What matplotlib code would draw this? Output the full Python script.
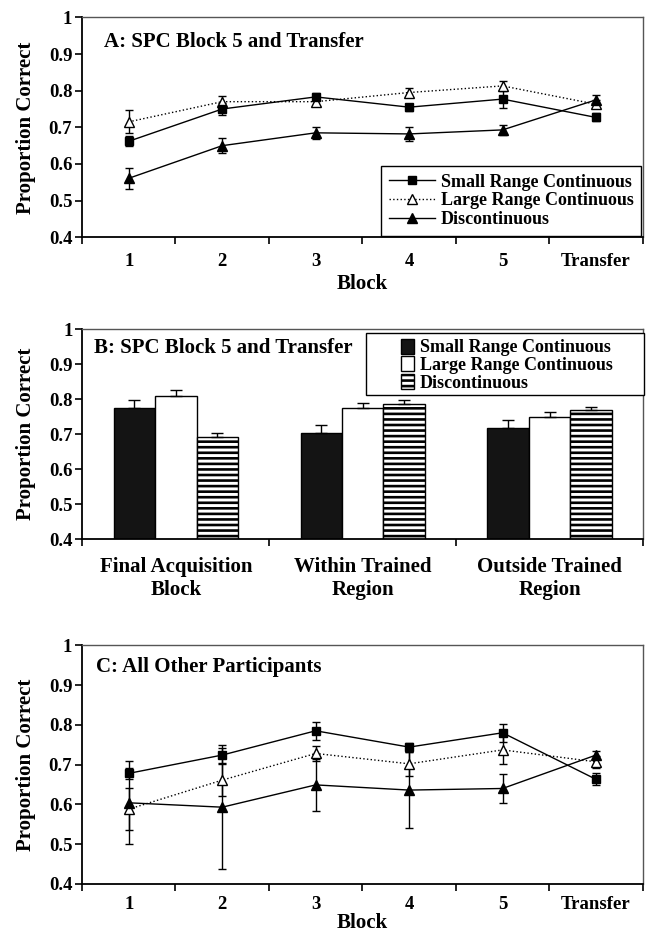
#%% Imports
import matplotlib
matplotlib.use('Agg')
import matplotlib.pyplot as plt
from matplotlib.patches import Patch, Rectangle
from matplotlib.lines import Line2D
import numpy as np

#%% Data
blocks = ['1', '2', '3', '4', '5', 'Transfer']
series_names = ['Small Range Continuous', 'Large Range Continuous', 'Discontinuous']

# Panel A: SPC Block 5 and Transfer
a_small = [0.662, 0.750, 0.783, 0.755, 0.777, 0.727]
a_small_err = [0.013, 0.016, 0.011, 0.010, 0.024, 0.011]
a_large = [0.715, 0.770, 0.770, 0.795, 0.813, 0.763]
a_large_err = [0.031, 0.015, 0.012, 0.013, 0.013, 0.011]
a_disc = [0.561, 0.650, 0.685, 0.682, 0.693, 0.775]
a_disc_err = [0.029, 0.020, 0.017, 0.020, 0.013, 0.012]

# Panel B: bars
regions = ['Final Acquisition\nBlock', 'Within Trained\nRegion', 'Outside Trained\nRegion']
b_small = [0.774, 0.704, 0.719]
b_small_err = [0.024, 0.023, 0.021]
b_large = [0.810, 0.774, 0.750]
b_large_err = [0.017, 0.015, 0.013]
b_disc = [0.693, 0.785, 0.769]
b_disc_err = [0.010, 0.012, 0.010]

# Panel C: All other participants
c_small = [0.678, 0.724, 0.785, 0.744, 0.780, 0.663]
c_small_err = [0.014, 0.019, 0.022, 0.010, 0.022, 0.015]
c_large = [0.588, 0.661, 0.728, 0.702, 0.737, 0.707]
c_large_err = [0.052, 0.040, 0.019, 0.030, 0.036, 0.015]
c_disc = [0.604, 0.593, 0.649, 0.636, 0.640, 0.724]
c_disc_err = [0.104, 0.156, 0.065, 0.095, 0.037, 0.011]

#%% Plotting parameters
plt.rcParams['font.family'] = 'serif'
plt.rcParams['font.serif'] = ['Liberation Serif', 'DejaVu Serif']
plt.rcParams['font.weight'] = 'bold'
plt.rcParams['axes.labelweight'] = 'bold'
plt.rcParams['hatch.linewidth'] = 1.9
plt.rcParams['hatch.color'] = 'black'

TICK_FS = 13.5
LABEL_FS = 15
TITLE_FS = 15
LEG_FS = 13


def style_axes(ax, ncat):
    ax.set_ylim(0.4, 1.0)
    ax.set_yticks(np.arange(0.4, 1.01, 0.1))
    ax.set_yticklabels(['0.4', '0.5', '0.6', '0.7', '0.8', '0.9', '1'])
    ax.set_xlim(0.5, ncat + 0.5)
    # category boundaries get the ticks, labels sit at the centres
    ax.set_xticks(np.arange(0.5, ncat + 0.51, 1.0))
    ax.set_xticklabels([])
    ax.set_xticks(np.arange(1, ncat + 1), minor=True)
    ax.tick_params(axis='x', which='major', direction='out', length=5, width=1.2)
    ax.tick_params(axis='x', which='minor', length=0, labelsize=TICK_FS, pad=11)
    ax.tick_params(axis='y', direction='out', length=5, width=1.2, labelsize=TICK_FS, pad=2)
    for s in ['left', 'bottom']:
        ax.spines[s].set_linewidth(1.3)
        ax.spines[s].set_color('black')
    for s in ['top', 'right']:
        ax.spines[s].set_linewidth(1.0)
        ax.spines[s].set_color('#555555')
    ax.set_ylabel('Proportion Correct', fontsize=LABEL_FS, va='center')
    ax.yaxis.set_label_coords(-0.1, 0.5)


def line_panel(ax, small, small_err, large, large_err, disc, disc_err):
    x = np.arange(1, len(blocks) + 1)
    ekw = dict(capsize=3, elinewidth=1, capthick=1, ecolor='black')
    ax.errorbar(x, large, yerr=large_err, color='black', ls=':', lw=1, marker='^',
                mfc='white', mec='black', ms=7, **ekw, label=series_names[1])
    ax.errorbar(x, disc, yerr=disc_err, color='black', ls='-', lw=1, marker='^',
                mfc='black', mec='black', ms=7, **ekw, label=series_names[2])
    ax.errorbar(x, small, yerr=small_err, color='black', ls='-', lw=1, marker='s',
                mfc='black', mec='black', ms=6, **ekw, label=series_names[0])
    ax.set_xticklabels(blocks, minor=True)
    ax.set_xlabel('Block', fontsize=LABEL_FS, labelpad=3)


fig = plt.figure(figsize=(6.46, 9.38), dpi=100)

#%% Panel A
axA = fig.add_axes([0.127, 0.7470, 0.868, 0.2345])
style_axes(axA, len(blocks))
line_panel(axA, a_small, a_small_err, a_large, a_large_err, a_disc, a_disc_err)
axA.text(0.039, 0.889, 'A: SPC Block 5 and Transfer', transform=axA.transAxes,
         fontsize=TITLE_FS, ha='left', va='center')
handles = [Line2D([], [], color='black', ls='-', lw=1, marker='s', ms=6, mfc='black'),
           Line2D([], [], color='black', ls=':', lw=1, marker='^', ms=7, mfc='white'),
           Line2D([], [], color='black', ls='-', lw=1, marker='^', ms=7, mfc='black')]
legA = axA.legend(handles, series_names, loc='lower right', bbox_to_anchor=(1.0, 0.0),
                  borderaxespad=0.1, fontsize=LEG_FS, handlelength=2.6, labelspacing=0.1,
                  borderpad=0.4, handletextpad=0.3, fancybox=False, framealpha=1)
legA.get_frame().set_edgecolor('black')
legA.get_frame().set_linewidth(1.0)

#%% Panel B
axB = fig.add_axes([0.1277, 0.4251, 0.8676, 0.2239])
style_axes(axB, len(regions))
xb = np.arange(1, len(regions) + 1)
w = 0.222
bkw = dict(capsize=4, error_kw=dict(elinewidth=1, capthick=1, ecolor='black'))
axB.bar(xb - w, b_small, w, color='#141414', edgecolor='black', lw=1,
        yerr=[np.zeros(3), b_small_err], **bkw)
axB.bar(xb, b_large, w, color='white', edgecolor='black', lw=1,
        yerr=[np.zeros(3), b_large_err], **bkw)
axB.bar(xb + w, b_disc, w, color='white', edgecolor='black', lw=1, hatch='---',
        yerr=[np.zeros(3), b_disc_err], **bkw)
axB.set_ylim(0.4, 1.0)
axB.set_xticklabels(regions, minor=True, fontsize=15, linespacing=1.15)
axB.tick_params(axis='x', which='minor', pad=13)
axB.text(0.0205, 0.909, 'B: SPC Block 5 and Transfer', transform=axB.transAxes,
         fontsize=TITLE_FS, ha='left', va='center')
# legend box drawn separately: it is wider than the entries
axB.add_patch(Rectangle((0.506, 0.687), 0.496, 0.295, transform=axB.transAxes,
                        facecolor='white', edgecolor='black', lw=1.0, clip_on=False,
                        zorder=4))
bh = [Patch(facecolor='#141414', edgecolor='black'),
      Patch(facecolor='white', edgecolor='black'),
      Patch(facecolor='white', edgecolor='black', hatch='---')]
legB = axB.legend(bh, series_names, loc='upper left', bbox_to_anchor=(0.568, 0.955),
                  borderaxespad=0.0, fontsize=LEG_FS, handlelength=0.75, handleheight=0.9,
                  labelspacing=0.0, borderpad=0.0, handletextpad=0.3, frameon=False)
legB.set_zorder(5)

#%% Panel C
axC = fig.add_axes([0.127, 0.0576, 0.868, 0.2545])
style_axes(axC, len(blocks))
line_panel(axC, c_small, c_small_err, c_large, c_large_err, c_disc, c_disc_err)
axC.tick_params(axis='x', which='minor', pad=9)
axC.set_xlabel('Block', fontsize=LABEL_FS, labelpad=0)
axC.text(0.0245, 0.910, 'C: All Other Participants', transform=axC.transAxes,
         fontsize=TITLE_FS, ha='left', va='center')

fig.savefig('out.png', dpi=100)
